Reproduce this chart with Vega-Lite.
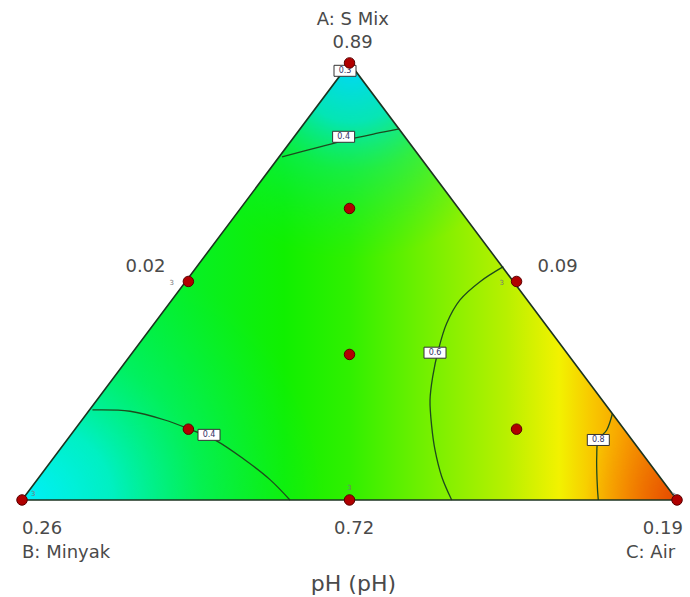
{
  "$schema": "https://vega.github.io/schema/vega-lite/v6.json",
  "width": 690,
  "height": 597,
  "padding": 0,
  "autosize": {"type": "none"},
  "background": "white",
  "config": {"view": {"stroke": null}, "axis": {"disable": true}},
  "datasets": {
    "tri": [{"x": 0, "y": 0}, {"x": 0.5, "y": 1}, {"x": 1, "y": 0}],
    "edge": [{"x": 0, "y": 0, "o": 0}, {"x": 0.5, "y": 1, "o": 1}, {"x": 1, "y": 0, "o": 2}, {"x": 0, "y": 0, "o": 3}],
    "contours": [
      {"c": "a04", "o": 0, "x": 0.397, "y": 0.785},
      {"c": "a04", "o": 1, "x": 0.455, "y": 0.808},
      {"c": "a04", "o": 2, "x": 0.493, "y": 0.823},
      {"c": "a04", "o": 3, "x": 0.539, "y": 0.838},
      {"c": "a04", "o": 4, "x": 0.576, "y": 0.849},
      {"c": "b04", "o": 0, "x": 0.1075, "y": 0.206},
      {"c": "b04", "o": 1, "x": 0.165, "y": 0.203},
      {"c": "b04", "o": 2, "x": 0.218, "y": 0.183},
      {"c": "b04", "o": 3, "x": 0.254, "y": 0.163},
      {"c": "b04", "o": 4, "x": 0.295, "y": 0.137},
      {"c": "b04", "o": 5, "x": 0.340, "y": 0.092},
      {"c": "b04", "o": 6, "x": 0.379, "y": 0.046},
      {"c": "b04", "o": 7, "x": 0.409, "y": 0.0},
      {"c": "c06", "o": 0, "x": 0.7348, "y": 0.5339},
      {"c": "c06", "o": 1, "x": 0.6992, "y": 0.4995},
      {"c": "c06", "o": 2, "x": 0.6687, "y": 0.4577},
      {"c": "c06", "o": 3, "x": 0.6484, "y": 0.4044},
      {"c": "c06", "o": 4, "x": 0.6356, "y": 0.3432},
      {"c": "c06", "o": 5, "x": 0.6270, "y": 0.2822},
      {"c": "c06", "o": 6, "x": 0.6229, "y": 0.2288},
      {"c": "c06", "o": 7, "x": 0.6255, "y": 0.1677},
      {"c": "c06", "o": 8, "x": 0.6305, "y": 0.1144},
      {"c": "c06", "o": 9, "x": 0.6408, "y": 0.0533},
      {"c": "c06", "o": 10, "x": 0.6560, "y": 0.0},
      {"c": "d08", "o": 0, "x": 0.9015, "y": 0.1984},
      {"c": "d08", "o": 1, "x": 0.8927, "y": 0.1602},
      {"c": "d08", "o": 2, "x": 0.8798, "y": 0.1373},
      {"c": "d08", "o": 3, "x": 0.8774, "y": 0.0991},
      {"c": "d08", "o": 4, "x": 0.8779, "y": 0.0458},
      {"c": "d08", "o": 5, "x": 0.8798, "y": 0.0}
    ],
    "clabels": [
      {"x": 0.4931, "y": 0.982, "t": "0.3"},
      {"x": 0.491, "y": 0.831, "t": "0.4"},
      {"x": 0.2855, "y": 0.149, "t": "0.4"},
      {"x": 0.6305, "y": 0.337, "t": "0.6"},
      {"x": 0.8798, "y": 0.1373, "t": "0.8"}
    ],
    "points": [
      {"x": 0.5, "y": 1}, {"x": 0, "y": 0}, {"x": 1, "y": 0},
      {"x": 0.254, "y": 0.5}, {"x": 0.755, "y": 0.5}, {"x": 0.5, "y": 0},
      {"x": 0.5, "y": 0.333}, {"x": 0.5, "y": 0.667},
      {"x": 0.254, "y": 0.162}, {"x": 0.755, "y": 0.162}
    ],
    "threes": [
      {"x": 0.2285, "y": 0.4966, "t": "3"},
      {"x": 0.7324, "y": 0.4966, "t": "3"},
      {"x": 0.5, "y": 0.0275, "t": "3"},
      {"x": 0.017, "y": 0.014, "t": "3"},
      {"x": 0.995, "y": 0.01, "t": "3"}
    ],
    "labelsC": [
      {"x": 0.505, "y": 1.098, "t": "A: S Mix"},
      {"x": 0.5046, "y": 1.0446, "t": "0.89"},
      {"x": 0.1885, "y": 0.532, "t": "0.02"},
      {"x": 0.8176, "y": 0.533, "t": "0.09"},
      {"x": 0.507, "y": -0.0664, "t": "0.72"}
    ],
    "labelsL": [
      {"x": 0.0, "y": -0.0664, "t": "0.26"},
      {"x": 0.0, "y": -0.121, "t": "B: Minyak"}
    ],
    "labelsR": [
      {"x": 1.009, "y": -0.0664, "t": "0.19"},
      {"x": 0.997, "y": -0.121, "t": "C: Air"}
    ],
    "title": [{"x": 0.506, "y": -0.192, "t": "pH (pH)"}]
  },
  "layer": [
    {
      "data": {"name": "tri"},
      "mark": {"type": "area", "fill": {"gradient": "linear", "x1": 0, "y1": 0, "x2": 1, "y2": 0, "stops": [
        {"offset": 0, "color": "#00f070"},
        {"offset": 0.15, "color": "#00f040"},
        {"offset": 0.4, "color": "#10f000"},
        {"offset": 0.5, "color": "#30f000"},
        {"offset": 0.64, "color": "#80f000"},
        {"offset": 0.74, "color": "#b8f000"},
        {"offset": 0.82, "color": "#f2f200"},
        {"offset": 0.87, "color": "#f8c800"},
        {"offset": 0.92, "color": "#f8a000"},
        {"offset": 0.97, "color": "#f07800"},
        {"offset": 1, "color": "#e85800"}
      ]}},
      "encoding": {
        "x": {"field": "x", "type": "quantitative", "scale": {"domain": [-0.0336, 1.0198], "nice": false, "zero": false}, "axis": null},
        "y": {"field": "y", "type": "quantitative", "scale": {"domain": [-0.222, 1.144], "nice": false, "zero": false}, "axis": null},
        "y2": {"datum": 0}
      }
    },
    {
      "data": {"name": "tri"},
      "mark": {"type": "area", "fill": {"gradient": "radial", "x1": 0.5038, "y1": 0.1664, "r1": 0, "x2": 0.5038, "y2": 0.1664, "r2": 0.3, "stops": [
        {"offset": 0, "color": "rgba(0,215,250,1)"},
        {"offset": 0.3, "color": "rgba(0,228,200,0.9)"},
        {"offset": 0.55, "color": "rgba(0,235,130,0.5)"},
        {"offset": 1, "color": "rgba(0,240,60,0)"}
      ]}},
      "encoding": {
        "x": {"field": "x", "type": "quantitative"},
        "y": {"field": "y", "type": "quantitative"},
        "y2": {"datum": 0}
      }
    },
    {
      "data": {"name": "tri"},
      "mark": {"type": "area", "fill": {"gradient": "radial", "x1": 0.0, "y1": 0.8336, "r1": 0, "x2": 0.08, "y2": 0.8336, "r2": 0.38, "stops": [
        {"offset": 0, "color": "rgba(0,240,250,1)"},
        {"offset": 0.3, "color": "rgba(0,240,215,0.85)"},
        {"offset": 0.6, "color": "rgba(0,240,150,0.4)"},
        {"offset": 1, "color": "rgba(0,240,90,0)"}
      ]}},
      "encoding": {
        "x": {"field": "x", "type": "quantitative"},
        "y": {"field": "y", "type": "quantitative"},
        "y2": {"datum": 0}
      }
    },
    {
      "data": {"name": "tri"},
      "mark": {"type": "area", "fill": {"gradient": "radial", "x1": 1, "y1": 0.8336, "r1": 0, "x2": 1, "y2": 0.8336, "r2": 0.14, "stops": [
        {"offset": 0, "color": "rgba(230,70,0,0.85)"},
        {"offset": 1, "color": "rgba(240,130,0,0)"}
      ]}},
      "encoding": {
        "x": {"field": "x", "type": "quantitative"},
        "y": {"field": "y", "type": "quantitative"},
        "y2": {"datum": 0}
      }
    },
    {
      "data": {"name": "contours"},
      "mark": {"type": "line", "interpolate": "catmull-rom", "stroke": "#1d4a1d", "strokeWidth": 1.3},
      "encoding": {
        "x": {"field": "x", "type": "quantitative"},
        "y": {"field": "y", "type": "quantitative"},
        "detail": {"field": "c", "type": "nominal"},
        "order": {"field": "o", "type": "quantitative"}
      }
    },
    {
      "data": {"name": "edge"},
      "mark": {"type": "line", "stroke": "#1c3320", "strokeWidth": 1.6},
      "encoding": {
        "x": {"field": "x", "type": "quantitative"},
        "y": {"field": "y", "type": "quantitative"},
        "order": {"field": "o", "type": "quantitative"}
      }
    },
    {
      "data": {"name": "clabels"},
      "mark": {"type": "point", "shape": "M-1,-0.5h2v1h-2z", "size": 484, "filled": true, "fill": "white", "stroke": "#333333", "strokeWidth": 1, "opacity": 1},
      "encoding": {
        "x": {"field": "x", "type": "quantitative"},
        "y": {"field": "y", "type": "quantitative"}
      }
    },
    {
      "data": {"name": "clabels"},
      "mark": {"type": "text", "fontSize": 8, "font": "DejaVu Sans", "color": "#333366", "baseline": "middle", "align": "center"},
      "encoding": {
        "x": {"field": "x", "type": "quantitative"},
        "y": {"field": "y", "type": "quantitative"},
        "text": {"field": "t"}
      }
    },
    {
      "data": {"name": "threes"},
      "mark": {"type": "text", "fontSize": 7, "font": "DejaVu Sans", "color": "#777777", "baseline": "middle", "align": "center"},
      "encoding": {
        "x": {"field": "x", "type": "quantitative"},
        "y": {"field": "y", "type": "quantitative"},
        "text": {"field": "t"}
      }
    },
    {
      "data": {"name": "points"},
      "mark": {"type": "point", "shape": "circle", "size": 110, "filled": true, "fill": "#b00000", "stroke": "#5a0000", "strokeWidth": 1, "opacity": 1},
      "encoding": {
        "x": {"field": "x", "type": "quantitative"},
        "y": {"field": "y", "type": "quantitative"}
      }
    },
    {
      "data": {"name": "labelsC"},
      "mark": {"type": "text", "fontSize": 18, "font": "DejaVu Sans", "color": "#4a4a4a", "baseline": "middle", "align": "center"},
      "encoding": {
        "x": {"field": "x", "type": "quantitative"},
        "y": {"field": "y", "type": "quantitative"},
        "text": {"field": "t"}
      }
    },
    {
      "data": {"name": "labelsL"},
      "mark": {"type": "text", "fontSize": 18, "font": "DejaVu Sans", "color": "#4a4a4a", "baseline": "middle", "align": "left"},
      "encoding": {
        "x": {"field": "x", "type": "quantitative"},
        "y": {"field": "y", "type": "quantitative"},
        "text": {"field": "t"}
      }
    },
    {
      "data": {"name": "labelsR"},
      "mark": {"type": "text", "fontSize": 18, "font": "DejaVu Sans", "color": "#4a4a4a", "baseline": "middle", "align": "right"},
      "encoding": {
        "x": {"field": "x", "type": "quantitative"},
        "y": {"field": "y", "type": "quantitative"},
        "text": {"field": "t"}
      }
    },
    {
      "data": {"name": "title"},
      "mark": {"type": "text", "fontSize": 22, "font": "DejaVu Sans", "color": "#4a4a4a", "baseline": "middle", "align": "center"},
      "encoding": {
        "x": {"field": "x", "type": "quantitative"},
        "y": {"field": "y", "type": "quantitative"},
        "text": {"field": "t"}
      }
    }
  ]
}
